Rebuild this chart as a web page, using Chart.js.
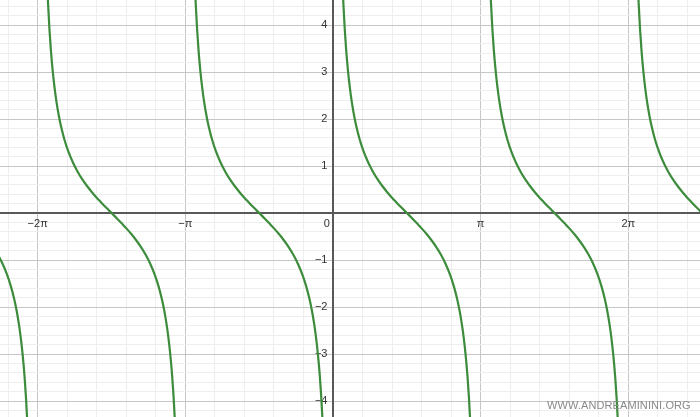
<!DOCTYPE html>
<html>
<head>
<meta charset="utf-8">
<script src="https://cdn.jsdelivr.net/npm/chart.js@4"></script>
<style>
  html, body { margin: 0; padding: 0; background: #fff; }
  #wrap { position: relative; width: 700px; height: 417px; }
  #mark {
    position: absolute; left: 547px; top: 399px;
    font: 11px "Liberation Sans", Arial, sans-serif; color: #8a8a8a;
    letter-spacing: 0.1px; white-space: nowrap;
  }
</style>
</head>
<body>
<div id="wrap">
  <canvas id="cot" width="700" height="417"></canvas>
  <div id="mark">WWW.ANDREAMININI.ORG</div>
</div>
<script>
// visible window (units)
const xMin = -7.085, xMax = 7.809;
const yMin = -4.34, yMax = 4.532;

// branch starts (asymptotes) of cot x
const branchStarts = [-3 * Math.PI, -2 * Math.PI, -Math.PI, 0, Math.PI, 2 * Math.PI];

// one branch: offset from the asymptote -> y
const branchT = [0.16, 0.18, 0.20, 0.22, 0.25, 0.28, 0.32, 0.36, 0.40, 0.45, 0.50, 0.57, 0.65, 0.75, 0.85, 0.95, 1.05, 1.15, 1.25, 1.35, 1.45, 1.571,
                 1.692, 1.792, 1.892, 1.992, 2.092, 2.192, 2.292, 2.392, 2.492, 2.572, 2.642, 2.692, 2.742, 2.782, 2.822, 2.862, 2.892, 2.922, 2.942, 2.962, 2.982];
const branchY = [6.197, 5.495, 4.933, 4.472, 3.916, 3.476, 3.018, 2.657, 2.365, 2.070, 1.830, 1.560, 1.315, 1.073, 0.879, 0.715, 0.574, 0.448, 0.332, 0.225, 0.121, 0,
                 -0.121, -0.225, -0.332, -0.448, -0.574, -0.715, -0.879, -1.073, -1.315, -1.560, -1.830, -2.070, -2.365, -2.657, -3.018, -3.476, -3.916, -4.472, -4.933, -5.495, -6.197];

// axis labels
const xLabelValues = [-2 * Math.PI, -Math.PI, 0, Math.PI, 2 * Math.PI];
const xLabelTexts = ['\u22122\u03c0', '\u2212\u03c0', '0\u2007\u2007', '\u03c0', '2\u03c0'];
const yLabelValues = [-4, -3, -2, -1, 1, 2, 3, 4];
const yLabelTexts = ['\u22124', '\u22123', '\u22122', '\u22121', '1', '2', '3', '4'];

const xStep = Math.PI / 5, yStep = 0.2;
const near = (a, b) => Math.abs(a - b) < 1e-6;

const xGrid = [];
for (let k = Math.ceil(xMin / xStep); k * xStep <= xMax; k++) xGrid.push(k * xStep);
const yGrid = [];
for (let k = Math.ceil(yMin / yStep); k * yStep <= yMax; k++) yGrid.push(+(k * yStep).toFixed(6));

// axes cross at the origin and must not take any room from the plot
const noRoom = sc => {
  if (sc.isHorizontal()) sc.height = 0; else sc.width = 0;
  sc.paddingTop = sc.paddingBottom = sc.paddingLeft = sc.paddingRight = 0;
};

const datasets = branchStarts.map(s => ({
  data: branchT.map((t, i) => ({ x: s + t, y: branchY[i] })),
  showLine: true,
  borderColor: '#3c8c3c',
  borderWidth: 2.2,
  pointRadius: 0,
  cubicInterpolationMode: 'monotone',
  fill: false
}));

new Chart(document.getElementById('cot'), {
  type: 'scatter',
  data: { datasets },
  options: {
    responsive: false,
    animation: false,
    layout: { padding: 0, autoPadding: false },
    plugins: { legend: { display: false }, tooltip: { enabled: false } },
    scales: {
      x: {
        type: 'linear', min: xMin, max: xMax,
        position: { y: 0 },
        afterBuildTicks: sc => { sc.ticks = xGrid.map(v => ({ value: v })); },
        afterFit: noRoom,
        grid: {
          drawTicks: false,
          color: c => (Math.abs(Math.round(c.tick.value / Math.PI) * Math.PI - c.tick.value) < 1e-6) ? '#c6c6c6' : '#eeeeee',
          lineWidth: 1
        },
        border: { display: true, color: '#595959', width: 2 },
        ticks: {
          autoSkip: false, maxRotation: 0, padding: 4,
          color: '#333', font: { family: 'Liberation Sans', size: 11 },
          callback: v => { const i = xLabelValues.findIndex(a => near(a, v)); return i < 0 ? '' : xLabelTexts[i]; }
        }
      },
      y: {
        type: 'linear', min: yMin, max: yMax,
        position: { x: 0 },
        afterBuildTicks: sc => { sc.ticks = yGrid.map(v => ({ value: v })); },
        afterFit: noRoom,
        grid: {
          drawTicks: false,
          color: c => near(Math.round(c.tick.value), c.tick.value) ? '#c6c6c6' : '#eeeeee',
          lineWidth: 1
        },
        border: { display: true, color: '#595959', width: 2 },
        ticks: {
          autoSkip: false,
          color: '#333', font: { family: 'Liberation Sans', size: 11 },
          // labels sit flush on the axis, so pad them with an en space
          callback: v => { const i = yLabelValues.findIndex(a => near(a, v)); return i < 0 ? '' : yLabelTexts[i] + '\u2002'; }
        }
      }
    }
  }
});
</script>
</body>
</html>
